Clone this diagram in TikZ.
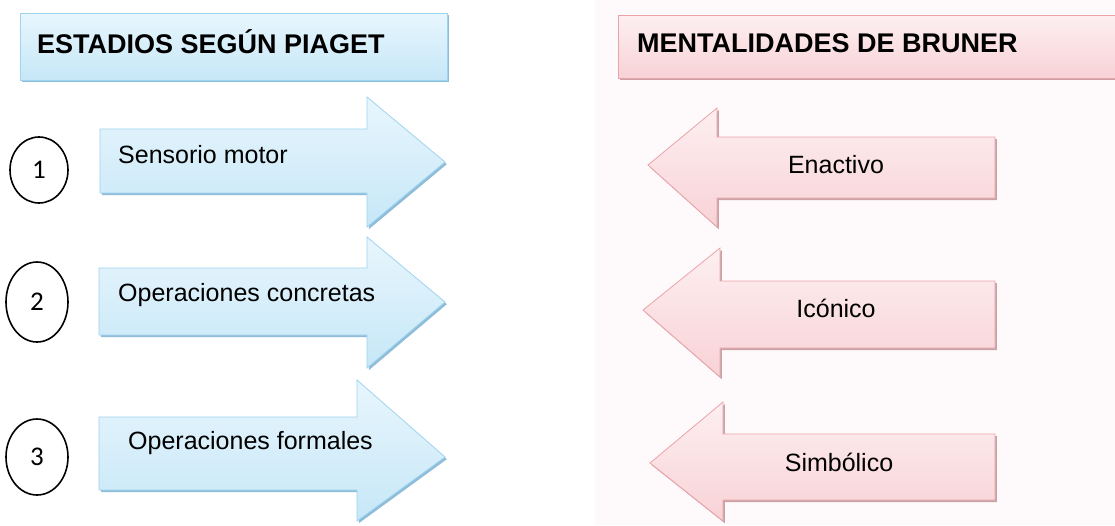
\documentclass[tikz,border=0pt]{standalone}
\usepackage{fontspec}
\setmainfont{Liberation Sans}
\newfontfamily\numfont{Carlito}
\usetikzlibrary{shapes.geometric}
\definecolor{bluetop}{HTML}{E8F6FD}
\definecolor{bluebot}{HTML}{C6E7F7}
\definecolor{blueline}{HTML}{9ED4EE}
\definecolor{blueshadow}{HTML}{8FBCD8}
\definecolor{pinktop}{HTML}{FDEFF1}
\definecolor{pinkbot}{HTML}{F8D2D6}
\definecolor{pinkline}{HTML}{EBA3AA}
\definecolor{pinkshadow}{HTML}{C9A2A6}
\definecolor{pinkbg}{HTML}{FEFAFB}
\tikzset{
  bluefill/.style={top color=bluetop, bottom color=bluebot, draw=blueline, line width=0.8pt, line join=miter},
  bluesh/.style={fill=blueshadow, shift={(1.8,2.2)}},
  pinkfill/.style={top color=pinktop, bottom color=pinkbot, draw=pinkline, line width=0.8pt, line join=miter},
  pinksh/.style={fill=pinkshadow, shift={(1.8,2.2)}},
  headtxt/.style={font=\bfseries\fontsize{27}{30}\selectfont, inner sep=0pt, anchor=west},
  armtxt/.style={font=\fontsize{25}{29}\selectfont, inner sep=0pt},
  numcirc/.style={ellipse, draw=black, line width=1.6pt, inner sep=0pt, font=\numfont\fontsize{27}{30}\selectfont},
}
\begin{document}
\begin{tikzpicture}[x=1pt,y=-1pt]
\useasboundingbox (0,0) rectangle (1115,525);
\fill[white] (0,0) rectangle (1115,525);
\fill[pinkbg] (595,0) rectangle (1115,525);
% headers
\path[bluesh] (20,13) rectangle (447,80);
\path[bluefill] (20,13) rectangle (447,80);
\path[pinksh] (618,15) rectangle (1125,78);
\path[pinkfill] (618,15) rectangle (1125,78);
\node[headtxt] (hp) at (37,42) {ESTADIOS SEGÚN PIAGET};
\node[headtxt] (hb) at (637,43) {MENTALIDADES DE BRUNER};
% left arrows
\path[bluesh] (100,129)--(367,129)--(367,97)--(445,162)--(367,227)--(367,193)--(100,193)--cycle;
\path[bluefill] (100,129)--(367,129)--(367,97)--(445,162)--(367,227)--(367,193)--(100,193)--cycle;
\path[bluesh] (99,268)--(367,268)--(367,237)--(445,302)--(367,368)--(367,335)--(99,335)--cycle;
\path[bluefill] (99,268)--(367,268)--(367,237)--(445,302)--(367,368)--(367,335)--(99,335)--cycle;
\path[bluesh] (99,417)--(357,417)--(357,380)--(445,457)--(357,521)--(357,490)--(99,490)--cycle;
\path[bluefill] (99,417)--(357,417)--(357,380)--(445,457)--(357,521)--(357,490)--(99,490)--cycle;
\node[armtxt, anchor=west] (s1) at (118,155) {Sensorio motor};
\node[armtxt, anchor=west] (s2) at (118,295) {Operaciones concretas};
\node[armtxt, anchor=west] (s3) at (128,443) {Operaciones formales};
% circles
\node[numcirc, minimum width=58pt, minimum height=66pt] (c1) at (39,170) {1};
\node[numcirc, minimum width=62pt, minimum height=80pt] (c2) at (37,302) {2};
\node[numcirc, minimum width=62pt, minimum height=76pt] (c3) at (37,457) {3};
% right arrows
\path[pinksh] (995,137)--(717,137)--(717,108)--(648,165)--(717,227)--(717,198)--(995,198)--cycle;
\path[pinkfill] (995,137)--(717,137)--(717,108)--(648,165)--(717,227)--(717,198)--(995,198)--cycle;
\path[pinksh] (995,281)--(720,281)--(720,248)--(643,310)--(720,377)--(720,348)--(995,348)--cycle;
\path[pinkfill] (995,281)--(720,281)--(720,248)--(643,310)--(720,377)--(720,348)--(995,348)--cycle;
\path[pinksh] (995,434)--(723,434)--(723,402)--(650,463)--(723,521)--(723,500)--(995,500)--cycle;
\path[pinkfill] (995,434)--(723,434)--(723,402)--(650,463)--(723,521)--(723,500)--(995,500)--cycle;
\node[armtxt] (b1) at (836,165) {Enactivo};
\node[armtxt] (b2) at (836,308) {Icónico};
\node[armtxt] (b3) at (839,462) {Simbólico};
\end{tikzpicture}
\end{document}
